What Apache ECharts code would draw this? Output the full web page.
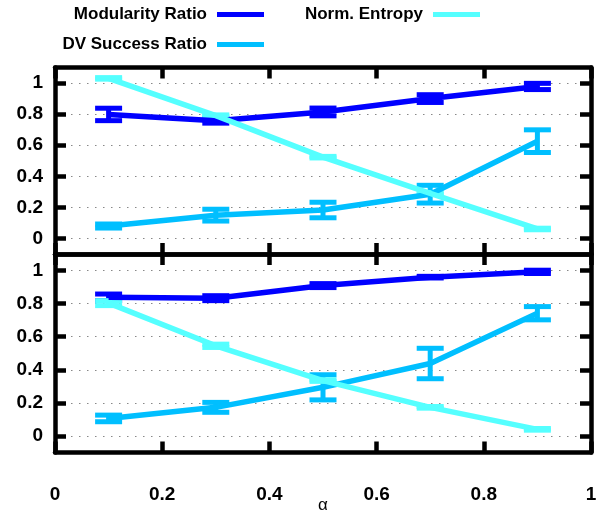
<!DOCTYPE html>
<html>
<head>
<meta charset="utf-8">
<script src="https://cdn.jsdelivr.net/npm/echarts@6/dist/echarts.min.js"></script>
<style>
  html, body { margin: 0; padding: 0; background: #fff; }
  #chart { width: 616px; height: 516px; }
</style>
</head>
<body>
<div id="chart"></div>
<script>
// alpha values on the x axis
const alphas = [0.1, 0.3, 0.5, 0.7, 0.9];
const yTicks = [0, 0.2, 0.4, 0.6, 0.8, 1];

// top panel
const topModularity = [0.798, 0.757, 0.814, 0.9, 0.978];
const topModularityErr = [0.04, 0.015, 0.025, 0.025, 0.02];
const topSuccess = [0.08, 0.15, 0.183, 0.285, 0.626];
const topSuccessErr = [0.013, 0.038, 0.05, 0.057, 0.073];
const topEntropy = [1.03, 0.79, 0.523, 0.29, 0.061];
const topEntropyErr = [0.005, 0.005, 0.005, 0.005, 0.005];

// bottom panel
const botModularity = [0.838, 0.833, 0.909, 0.96, 0.992];
const botModularityErr = [0.02, 0.015, 0.012, 0.005, 0.01];
const botSuccess = [0.106, 0.173, 0.294, 0.438, 0.742];
const botSuccessErr = [0.02, 0.03, 0.076, 0.092, 0.04];
const botEntropy = [0.803, 0.545, 0.335, 0.173, 0.04];
const botEntropyErr = [0.015, 0.01, 0.005, 0.005, 0.005];

const names = ['Modularity Ratio', 'DV Success Ratio', 'Norm. Entropy'];
const colors = ['#0000ff', '#00bfff', '#55ffff'];

const chart = echarts.init(document.getElementById('chart'));

function errorBars(values, errs, color, panel) {
  return {
    type: 'custom',
    xAxisIndex: panel * 2,
    yAxisIndex: panel * 2,
    silent: true,
    data: alphas.map((a, i) => [a, values[i], errs[i]]),
    renderItem: function (params, api) {
      const x = api.value(0);
      const y = api.value(1);
      const e = api.value(2);
      const hi = api.coord([x, y + e]);
      const lo = api.coord([x, y - e]);
      const half = 13.5;
      const style = { stroke: color, lineWidth: 5 };
      return {
        type: 'group',
        children: [
          { type: 'line', shape: { x1: hi[0], y1: hi[1], x2: lo[0], y2: lo[1] }, style: style },
          { type: 'line', shape: { x1: hi[0] - half, y1: hi[1], x2: hi[0] + half, y2: hi[1] }, style: style },
          { type: 'line', shape: { x1: lo[0] - half, y1: lo[1], x2: lo[0] + half, y2: lo[1] }, style: style }
        ]
      };
    }
  };
}

function lineSeries(name, values, color, panel) {
  return {
    name: name,
    type: 'line',
    xAxisIndex: panel * 2,
    yAxisIndex: panel * 2,
    showSymbol: false,
    silent: true,
    color: color,
    lineStyle: { color: color, width: 5.5 },
    data: alphas.map((a, i) => [a, values[i]])
  };
}

function xAxis(grid, position, showLabel) {
  return {
    type: 'value',
    gridIndex: grid,
    position: position,
    min: 0,
    max: 1,
    interval: 0.2,
    axisLine: { show: true, onZero: false, lineStyle: { color: '#000', width: 4.5 } },
    axisTick: { show: true, inside: true, length: 11, lineStyle: { color: '#000', width: 4.5 } },
    splitLine: { show: false },
    axisLabel: {
      show: true,
      margin: 33,
      color: '#000',
      fontFamily: 'Liberation Sans',
      fontWeight: 'bold',
      fontSize: 19,
      formatter: v => (showLabel ? String(v) : '')
    }
  };
}

function yAxis(grid, position, showLabel) {
  return {
    type: 'value',
    gridIndex: grid,
    position: position,
    min: -0.1,
    max: 1.1,
    axisLine: { show: true, onZero: false, lineStyle: { color: '#000', width: 4.5 } },
    axisTick: { show: true, inside: true, length: 11, customValues: yTicks, lineStyle: { color: '#000', width: 4.5 } },
    splitLine: {
      show: showLabel,
      lineStyle: { color: '#888', width: 1.2, type: [1.5, 6.5] }
    },
    axisLabel: {
      show: true,
      customValues: yTicks,
      margin: 12,
      color: '#000',
      fontFamily: 'Liberation Sans',
      fontWeight: 'bold',
      fontSize: 19,
      formatter: v => (showLabel ? String(+v.toFixed(1)) : '')
    }
  };
}

const bottomX = xAxis(1, 'bottom', true);
bottomX.name = 'α';
bottomX.nameLocation = 'middle';
bottomX.nameGap = 44;
bottomX.nameMoveOverlap = false;
bottomX.nameTextStyle = { color: '#000', fontFamily: 'Liberation Sans', fontSize: 17 };

function legendText() {
  return {
    color: '#000',
    fontFamily: 'Liberation Sans',
    fontWeight: 'bold',
    fontSize: 17,
    padding: [0, 5, 0, 0]
  };
}

const option = {
  animation: false,
  backgroundColor: '#fff',
  legend: [{
    data: [names[0], names[1]],
    orient: 'vertical',
    align: 'right',
    right: 352,
    top: 6,
    padding: 0,
    itemWidth: 47,
    itemHeight: 5,
    itemGap: 13,
    icon: 'rect',
    selectedMode: false,
    textStyle: legendText()
  }, {
    data: [names[2]],
    orient: 'vertical',
    align: 'right',
    right: 136,
    top: 6,
    padding: 0,
    itemWidth: 47,
    itemHeight: 5,
    icon: 'rect',
    selectedMode: false,
    textStyle: legendText()
  }],
  grid: [
    { left: 55, right: 25, top: 67.5, height: 186.5, outerBoundsMode: 'none' },
    { left: 55, right: 25, top: 254, height: 198.5, outerBoundsMode: 'none' }
  ],
  xAxis: [
    xAxis(0, 'bottom', false),
    xAxis(0, 'top', false),
    bottomX,
    xAxis(1, 'top', false)
  ],
  yAxis: [
    yAxis(0, 'left', true),
    yAxis(0, 'right', false),
    yAxis(1, 'left', true),
    yAxis(1, 'right', false)
  ],
  series: [
    lineSeries(names[0], topModularity, colors[0], 0),
    errorBars(topModularity, topModularityErr, colors[0], 0),
    lineSeries(names[1], topSuccess, colors[1], 0),
    errorBars(topSuccess, topSuccessErr, colors[1], 0),
    lineSeries(names[2], topEntropy, colors[2], 0),
    errorBars(topEntropy, topEntropyErr, colors[2], 0),
    lineSeries(names[0], botModularity, colors[0], 1),
    errorBars(botModularity, botModularityErr, colors[0], 1),
    lineSeries(names[1], botSuccess, colors[1], 1),
    errorBars(botSuccess, botSuccessErr, colors[1], 1),
    lineSeries(names[2], botEntropy, colors[2], 1),
    errorBars(botEntropy, botEntropyErr, colors[2], 1)
  ]
};

chart.setOption(option);
</script>
</body>
</html>
